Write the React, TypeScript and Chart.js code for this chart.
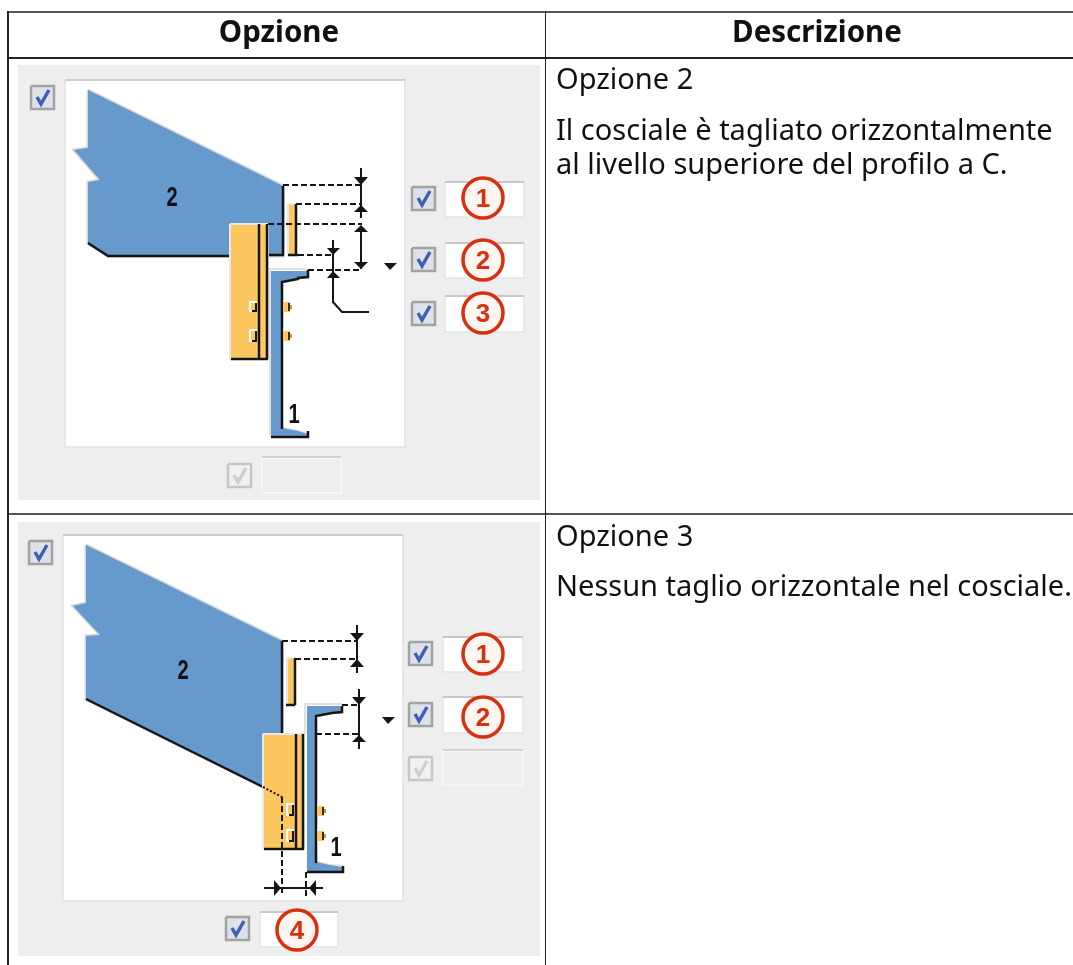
import React, { useEffect, useRef } from "react";
import { Chart, registerables } from "chart.js";

Chart.register(...registerables);

type Pt = [number, number];

const headers = ["Opzione", "Descrizione"];
const descriptions = [
  ["Opzione 2", "Il cosciale è tagliato orizzontalmente", "al livello superiore del profilo a C."],
  ["Opzione 3", "Nessun taglio orizzontale nel cosciale."],
];

const panels = [[18, 65, 540, 500], [18, 522, 540, 956]];
const cards = [[65, 80, 405, 447], [63, 535, 403, 901]];

const activeChecks: Pt[] = [[31, 86], [412, 187], [412, 248], [412, 302], [29, 541], [409, 642], [409, 703], [226, 917]];
const disabledChecks: Pt[] = [[228, 464], [409, 757]];
const activeInputs = [[445, 182, 524, 217], [445, 243, 524, 278], [445, 296, 524, 332], [443, 637, 523, 672], [443, 697, 523, 733], [260, 912, 338, 947]];
const disabledInputs = [[262, 458, 341, 493], [443, 751, 523, 785]];
const badges = [
  { x: 483, y: 198, label: "1" }, { x: 483, y: 260, label: "2" }, { x: 483, y: 313, label: "3" },
  { x: 483, y: 654, label: "1" }, { x: 483, y: 717, label: "2" }, { x: 297, y: 930, label: "4" },
];
const partLabels = [
  { x: 172, y: 197, label: "2" }, { x: 294, y: 414, label: "1" },
  { x: 183, y: 670, label: "2" }, { x: 336, y: 847, label: "1" },
];

// Upper figure
const rafterA: Pt[] = [[88, 90], [283, 186], [283, 256], [108, 256], [88, 243], [88, 182], [100, 180], [74, 150], [88, 148]];
const rafterEdgeA: Pt[] = [[283, 186], [283, 255], [268, 255]];
const rafterLowA: Pt[] = [[88, 243], [108, 256], [230, 256]];
const plateA: Pt[] = [[230, 224], [268, 224], [268, 359], [230, 359]];
const plateLinesA: Pt[][] = [[[259, 224], [259, 359]], [[267, 224], [267, 359]], [[231, 359], [268, 359]]];
const stripA: Pt[] = [[288, 204], [296, 204], [296, 255], [288, 255]];
const stripLinesA: Pt[][] = [[[296, 204], [296, 255]], [[288, 255], [298, 255]]];
const channelA: Pt[] = [[271, 271], [308, 271], [308, 277], [298, 279], [282, 282], [282, 428], [298, 431], [308, 434], [308, 437], [271, 437]];
const channelLinesA: Pt[][] = [[[308, 270], [308, 277], [298, 278], [298, 279], [282, 282], [282, 429]], [[271, 437], [308, 437], [308, 431]]];
const channelEdgeA: Pt[][] = [[[270, 437], [270, 269], [308, 269]], [[283, 428], [298, 431], [307, 433]]];
const dashesA: Pt[][] = [
  [[283, 185], [362, 185]], [[296, 204], [362, 204]], [[268, 224], [362, 224]],
  [[298, 255], [333, 255]], [[308, 270], [362, 270]],
];
const dimsA: Pt[][] = [
  [[361, 168], [361, 218]], [[361, 226], [361, 269]], [[333, 240], [333, 302], [342, 312], [369, 312]],
];
const arrowsA: Pt[][] = [
  [[354, 177], [368, 177], [361, 185]], [[354, 212], [368, 212], [361, 205]],
  [[354, 232], [368, 232], [361, 225]], [[354, 262], [368, 262], [361, 269]],
  [[327, 248], [340, 248], [333, 255]], [[327, 278], [340, 278], [333, 271]],
  [[384, 263], [397, 263], [390, 270]],
];
const outerBoltsA = [[283, 302, 290, 312], [283, 331, 290, 341]];
const innerBoltsA = [[249, 301, 257, 312], [249, 329, 257, 342]];

// Lower figure
const rafterB: Pt[] = [[86, 545], [282, 641], [282, 733], [263, 733], [263, 787], [86, 699], [86, 636], [100, 635], [73, 606], [86, 603]];
const rafterEdgeB: Pt[] = [[282, 641], [282, 733]];
const rafterLowB: Pt[] = [[86, 699], [263, 787]];
const hiddenB: Pt[] = [[263, 787], [282, 797]];
const plateB: Pt[] = [[263, 734], [304, 734], [304, 849], [263, 849]];
const plateLinesB: Pt[][] = [[[296, 734], [296, 849]], [[303, 734], [303, 849]], [[264, 849], [304, 849]]];
const stripB: Pt[] = [[287, 658], [295, 658], [295, 705], [287, 705]];
const stripLinesB: Pt[][] = [[[295, 658], [295, 705]], [[286, 705], [295, 705]]];
const channelB: Pt[] = [[307, 706], [342, 706], [342, 712], [332, 713], [316, 716], [316, 862], [330, 865], [343, 867], [343, 872], [307, 872]];
const channelLinesB: Pt[][] = [[[342, 706], [342, 712], [332, 713], [316, 716], [316, 863]], [[307, 872], [343, 872], [343, 866]]];
const channelEdgeB: Pt[][] = [[[305, 734], [305, 704], [342, 704]], [[317, 862], [330, 865], [342, 866]]];
const dashesB: Pt[][] = [
  [[282, 641], [357, 641]], [[295, 659], [357, 659]], [[342, 705], [358, 705]], [[316, 734], [358, 734]],
  [[282, 797], [282, 896]], [[306, 872], [306, 897]],
];
const dimsB: Pt[][] = [
  [[357, 625], [357, 673]], [[359, 689], [359, 749]], [[264, 888], [323, 888]],
];
const arrowsB: Pt[][] = [
  [[350, 633], [364, 633], [357, 641]], [[350, 667], [364, 667], [357, 659]],
  [[352, 697], [366, 697], [359, 705]], [[352, 742], [366, 742], [359, 735]],
  [[274, 880], [274, 896], [281, 888]], [[316, 880], [316, 896], [309, 888]],
  [[382, 717], [395, 717], [388, 724]],
];
const outerBoltsB = [[317, 806, 324, 816], [317, 831, 324, 841]];
const innerBoltsB = [[286, 803, 294, 816], [286, 829, 294, 842]];

const BLUE = "#6699cc";
const ORANGE = "#fdc75f";
const INK = "#151515";
const RED = "#d8300f";

const rect = (r: number[]): Pt[] => [[r[0], r[1]], [r[2], r[1]], [r[2], r[3]], [r[0], r[3]]];
const tick = (p: Pt): Pt[] => [[p[0] + 6, p[1] + 11], [p[0] + 10, p[1] + 18], [p[0] + 18, p[1] + 4]];

function makeDatasets() {
  const out: any[] = [];
  const add = (pts: Pt[], s: any) =>
    out.push({
      data: pts.map(([x, y]) => ({ x, y })),
      showLine: true,
      pointRadius: 0,
      tension: 0,
      clip: false,
      borderColor: s.stroke ?? "transparent",
      borderWidth: s.width ?? 0,
      borderDash: s.dash ?? [],
      areaFill: s.fill,
      borderJoinStyle: "miter",
      borderCapStyle: "butt",
    });
  const closed = (p: Pt[]) => [...p, p[0]];

  panels.forEach((r) => add(rect(r), { fill: "#eeeeee" }));
  cards.forEach((r) => {
    add(closed(rect(r)), { fill: "#ffffff", stroke: "#e0e2e8", width: 1.5 });
    add([[r[0], r[1]], [r[2], r[1]]], { stroke: "#c4c4c8", width: 1.5 });
  });

  activeInputs.forEach((r) => {
    add(closed(rect(r)), { fill: "#ffffff", stroke: "#e2e5ec", width: 1.5 });
    add([[r[0], r[1]], [r[2], r[1]]], { stroke: "#bdbdbd", width: 1.5 });
  });
  disabledInputs.forEach((r) => {
    add(closed(rect(r)), { fill: "#eeeeee", stroke: "#f8f8f8", width: 1.5 });
    add([[r[0], r[1] - 1], [r[2], r[1] - 1]], { stroke: "#c4c4c4", width: 1.5 });
  });
  activeChecks.forEach((p) => {
    add(closed(rect([p[0], p[1], p[0] + 23, p[1] + 23])), { fill: "#dde1e8", stroke: "#a2a2a2", width: 2.5 });
    add(tick(p), { stroke: "#3f5fb5", width: 3.5 });
  });
  disabledChecks.forEach((p) => {
    add(closed(rect([p[0], p[1], p[0] + 23, p[1] + 23])), { fill: "#f1f1f1", stroke: "#c6c6c6", width: 2.5 });
    add(tick(p), { stroke: "#cfcfcf", width: 3.5 });
  });
  out.push({
    data: badges.map((b) => ({ x: b.x, y: b.y })),
    showLine: false,
    pointRadius: 20,
    pointBackgroundColor: "#fff6f2",
    pointBorderColor: RED,
    pointBorderWidth: 3.5,
    clip: false,
  });

  const figure = (f: any) => {
    add(closed(f.rafter), { stroke: "#d6d6d6", width: 3 });
    add(f.rafter, { fill: BLUE });
    add(f.rafterEdge, { stroke: INK, width: 2.5 });
    add(f.rafterLow, { stroke: INK, width: 2.5 });
    add(closed(f.strip), { fill: ORANGE, stroke: "#e8e8e8", width: 2 });
    f.stripLines.forEach((l: Pt[]) => add(l, { stroke: INK, width: 2.5 }));
    f.channelEdge.forEach((l: Pt[]) => add(l, { stroke: "#e0e0e0", width: 2 }));
    add(f.channel, { fill: BLUE });
    f.channelLines.forEach((l: Pt[]) => add(l, { stroke: INK, width: 2.5 }));
    add(closed(f.plate), { fill: ORANGE, stroke: "#e8e8e8", width: 2 });
    f.plateLines.forEach((l: Pt[]) => add(l, { stroke: INK, width: 2.5 }));
    f.innerBolts.forEach((r: number[]) => {
      add(rect(r), { fill: "#ffffff" });
      add(rect([r[0] + 2, r[1] + 2, r[2] - 2, r[3] - 2]), { fill: ORANGE });
      add([[r[2] - 1, r[1] + 2], [r[2] - 1, r[3] - 1], [r[0] + 3, r[3] - 1]], { stroke: INK, width: 2 });
    });
    f.outerBolts.forEach((r: number[]) => {
      add(rect(r), { fill: ORANGE });
      add([[r[0], r[1] - 1], [r[2], r[1] - 1]], { stroke: "#f4f4f4", width: 1.5 });
      add([[r[0] + 6, r[1] + 1], [r[0] + 6, r[3] - 1]], { stroke: "#3a2c10", width: 2 });
      add([[r[0] + 8, r[1] + 3], [r[0] + 8, r[3] - 3]], { stroke: "#c79a35", width: 2 });
    });
    f.dashes.forEach((l: Pt[]) => add(l, { stroke: INK, width: 2, dash: [6, 3] }));
    f.dims.forEach((l: Pt[]) => add(l, { stroke: INK, width: 2 }));
    f.arrows.forEach((t: Pt[]) => add(t, { fill: INK }));
  };
  figure({
    rafter: rafterA, rafterEdge: rafterEdgeA, rafterLow: rafterLowA, plate: plateA, plateLines: plateLinesA,
    strip: stripA, stripLines: stripLinesA, channel: channelA, channelLines: channelLinesA, channelEdge: channelEdgeA,
    dashes: dashesA, dims: dimsA, arrows: arrowsA, outerBolts: outerBoltsA, innerBolts: innerBoltsA,
  });
  figure({
    rafter: rafterB, rafterEdge: rafterEdgeB, rafterLow: rafterLowB, plate: plateB, plateLines: plateLinesB,
    strip: stripB, stripLines: stripLinesB, channel: channelB, channelLines: channelLinesB, channelEdge: channelEdgeB,
    dashes: dashesB, dims: dimsB, arrows: arrowsB, outerBolts: outerBoltsB, innerBolts: innerBoltsB,
  });
  add(hiddenB, { stroke: INK, width: 2, dash: [2, 2] });
  // later datasets paint over earlier ones
  out.forEach((d, i) => (d.order = out.length - i));
  return out;
}

const areaFillPlugin = {
  id: "areaFill",
  beforeDatasetDraw(chart: any, args: any) {
    const ds = chart.data.datasets[args.index];
    if (!ds.areaFill) return;
    const pts = args.meta.data;
    const ctx = chart.ctx;
    ctx.save();
    ctx.beginPath();
    pts.forEach((p: any, i: number) => (i ? ctx.lineTo(p.x, p.y) : ctx.moveTo(p.x, p.y)));
    ctx.closePath();
    ctx.fillStyle = ds.areaFill;
    ctx.fill();
    ctx.restore();
  },
};

const abs = (s: React.CSSProperties): React.CSSProperties => ({ position: "absolute", ...s });
const bodyFont = '"Noto Sans", sans-serif';

export default function App() {
  const ref = useRef<HTMLCanvasElement>(null);
  useEffect(() => {
    document.body.style.margin = "0";
    document.body.style.background = "#ffffff";
    const chart = new Chart(ref.current!, {
      type: "scatter",
      data: { datasets: makeDatasets() },
      plugins: [areaFillPlugin],
      options: {
        animation: false,
        responsive: false,
        layout: { padding: 0, autoPadding: false },
        plugins: { legend: { display: false }, tooltip: { enabled: false }, title: { display: false } },
        scales: {
          x: { type: "linear", min: 0, max: 1073, display: false },
          y: { type: "linear", min: 0, max: 965, reverse: true, display: false },
        },
      },
    } as any);
    return () => chart.destroy();
  }, []);

  const line = (s: React.CSSProperties) => <div style={abs({ background: "#222", ...s })} />;
  const bodyText = (t: string, y: number, key: string) => (
    <div key={key} style={abs({ left: 556, top: y - 20, height: 40, lineHeight: "40px", fontFamily: bodyFont, fontSize: 29, color: "#111", whiteSpace: "nowrap", filter: "blur(0.3px)" })}>{t}</div>
  );
  const head = (t: string, cx: number) => (
    <div key={t} style={abs({ left: cx - 200, width: 400, top: 11, height: 40, lineHeight: "40px", textAlign: "center", fontFamily: bodyFont, fontWeight: 700, fontSize: 29.5, color: "#111", filter: "blur(0.3px)" })}>{t}</div>
  );

  return (
    <div style={{ position: "relative", width: 1073, height: 965, overflow: "hidden", background: "#fff" }}>
      <canvas ref={ref} width={1073} height={965} style={abs({ left: 0, top: 0, width: 1073, height: 965, filter: "blur(0.55px)" })} />
      {line({ left: 7, top: 11, width: 1066, height: 1.5, background: "#555" })}
      {line({ left: 7, top: 57, width: 1066, height: 1.5 })}
      {line({ left: 7, top: 513, width: 1066, height: 1.5, background: "#555" })}
      {line({ left: 7, top: 11, width: 1.5, height: 954 })}
      {line({ left: 544.5, top: 11, width: 1.5, height: 954 })}
      {head(headers[0], 279)}
      {head(headers[1], 817)}
      {bodyText(descriptions[0][0], 78, "a0")}
      {bodyText(descriptions[0][1], 129, "a1")}
      {bodyText(descriptions[0][2], 163, "a2")}
      {bodyText(descriptions[1][0], 535, "b0")}
      {bodyText(descriptions[1][1], 585, "b1")}
      {badges.map((b, i) => (
        <div key={"bd" + i} style={abs({ left: b.x - 15, width: 30, top: b.y - 15, height: 30, lineHeight: "30px", textAlign: "center", fontFamily: '"Liberation Sans", sans-serif', fontWeight: 700, fontSize: 26, color: RED, filter: "blur(0.5px)" })}>{b.label}</div>
      ))}
      {partLabels.map((b, i) => (
        <div key={"pl" + i} style={abs({ left: b.x - 15, width: 30, top: b.y - 15, height: 30, lineHeight: "30px", textAlign: "center", fontFamily: '"Liberation Sans", sans-serif', fontWeight: 700, fontSize: 28, color: "#111", transform: "scaleX(0.72)", filter: "blur(0.3px)" })}>{b.label}</div>
      ))}
    </div>
  );
}
